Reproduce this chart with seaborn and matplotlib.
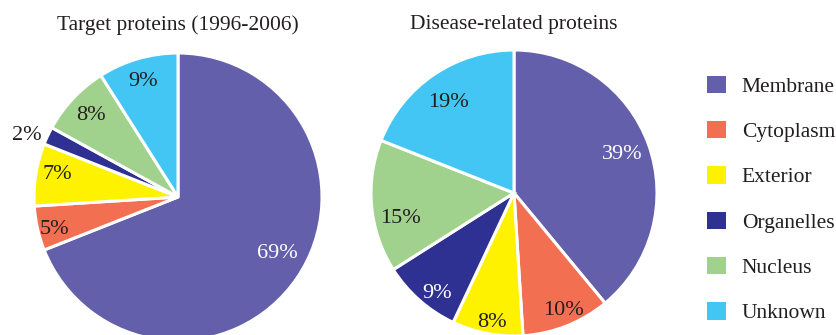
import numpy as np
import matplotlib
matplotlib.use("Agg")
import matplotlib.pyplot as plt
from matplotlib.patches import Patch
from matplotlib.transforms import offset_copy
import seaborn as sns

# Subcellular locations and their shares (%)
locations = ["Membrane", "Cytoplasm", "Exterior", "Organelles", "Nucleus", "Unknown"]
target_pct = [69, 5, 7, 2, 8, 9]
disease_pct = [39, 10, 8, 9, 15, 19]
titles = ["Target proteins (1996-2006)", "Disease-related proteins"]

sns.set_theme(style="white")
plt.rcParams["font.family"] = ["Liberation Serif", "DejaVu Serif"]

palette = sns.color_palette(["#645fab", "#f26f52", "#fff200", "#2e3192", "#a1d28d", "#43c6f4"])

# label placement: radial fraction and angular nudge (deg) per wedge
target_lab_r = [0.78, 0.88, 0.86, 1.14, 0.84, 0.86]
target_lab_da = [6, 1, -3, 2, -1, 0]
disease_lab_r = [0.81, 0.87, 0.90, 0.87, 0.81, 0.80]
disease_lab_da = [1, 2, 1, 3, 6, 1]

W, H = 836, 335
TXT = "#231f20"
fig = plt.figure(figsize=(W / 100, H / 100), dpi=100)


def add_pie(cx, cy, R, values, lab_r, lab_da, title, white_orgs):
    ax = fig.add_axes([(cx - R) / W, (H - cy - R) / H, 2 * R / W, 2 * R / H])
    wedges, _ = ax.pie(values, colors=palette, startangle=90, counterclock=False,
                       radius=1.0, wedgeprops=dict(edgecolor="white", linewidth=2.2))
    lab_tr = offset_copy(ax.transData, fig=fig, x=0, y=-3, units="dots")
    for w, v, r, da, name in zip(wedges, values, lab_r, lab_da, locations):
        ang = np.deg2rad((w.theta1 + w.theta2) / 2 + da)
        white = name == "Membrane" or (name == "Organelles" and white_orgs)
        ax.text(r * np.cos(ang), r * np.sin(ang), f"{v}%", ha="center", va="center",
                fontsize=16, color="white" if white else TXT, transform=lab_tr)
    ax.set_xlim(-1, 1)
    ax.set_ylim(-1, 1)
    ax.set_axis_off()
    fig.text(cx / W, 1 - 25 / H, title, ha="center", va="center",
             fontsize=15.5, color=TXT)
    return ax


add_pie(178, 197, 144, target_pct, target_lab_r, target_lab_da, titles[0], False)
add_pie(514, 193, 143, disease_pct, disease_lab_r, disease_lab_da, titles[1], True)

handles = [Patch(facecolor=c, edgecolor="none", label=l) for c, l in zip(palette, locations)]
fig.legend(handles=handles, loc="upper left", bbox_to_anchor=(707 / W, 1 - 75.5 / H),
           frameon=False, fontsize=15.5, handlelength=0.88, handleheight=0.88,
           handletextpad=0.74, labelspacing=1.12, borderaxespad=0, borderpad=0,
           labelcolor=TXT)

fig.savefig("out.png", dpi=100)
